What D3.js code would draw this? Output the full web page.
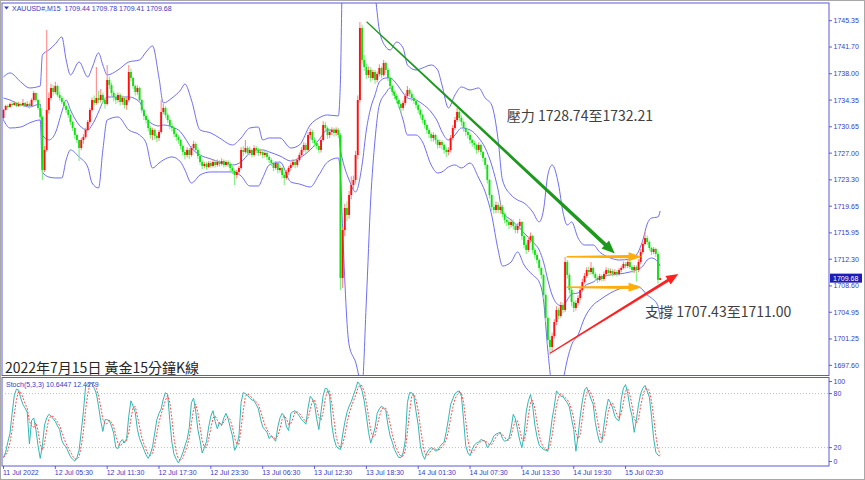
<!DOCTYPE html>
<html><head><meta charset="utf-8">
<script src="https://cdn.jsdelivr.net/npm/d3@7"></script>
<style>body{margin:0;background:#fff}svg{display:block}</style>
</head><body>
<svg id="c" width="865" height="480"></svg>
<script>
// ---------------- DATA ----------------
const openFirst = 1731.87;
const closes = [
1732.98,1733.53,1733.39,1733.81,1733.67,1733.95,1733.53,1733.81,1733.67,1733.95,
1733.53,1733.81,1733.53,1734.36,1735.33,1734.36,1733.26,1732.01,1724.66,1727.44,
1732.98,1734.64,1736.03,1735.47,1736.30,1735.06,1734.64,1734.09,1733.53,1732.98,
1732.29,1731.32,1730.48,1729.51,1728.82,1727.71,1728.82,1729.24,1730.21,1731.32,
1732.98,1734.36,1733.95,1734.64,1734.36,1735.06,1734.36,1733.81,1737.14,1736.44,
1735.33,1734.78,1734.36,1735.06,1734.09,1734.64,1733.67,1734.36,1738.24,1737.41,
1736.30,1735.47,1736.03,1734.36,1732.98,1732.15,1731.59,1730.48,1729.51,1730.21,
1729.38,1729.10,1729.93,1732.70,1733.26,1732.29,1731.59,1730.76,1730.48,1729.65,
1729.24,1728.82,1727.99,1727.16,1726.74,1727.44,1726.74,1727.71,1728.27,1727.44,
1726.60,1725.77,1725.22,1725.50,1725.08,1725.63,1725.22,1725.77,1725.36,1725.77,
1725.50,1725.91,1725.36,1725.77,1725.50,1724.94,1724.53,1723.97,1724.39,1724.94,
1727.44,1727.16,1727.71,1727.02,1727.44,1726.74,1727.71,1727.44,1727.02,1727.16,
1726.74,1727.02,1726.47,1726.05,1725.63,1724.94,1725.63,1724.66,1724.94,1723.97,
1723.56,1724.39,1724.94,1725.36,1725.77,1725.36,1726.05,1726.74,1727.44,1728.13,
1727.44,1729.51,1729.93,1728.82,1728.41,1727.99,1727.44,1728.82,1730.90,1730.48,
1729.51,1729.93,1730.21,1729.79,1730.21,1729.51,1709.70,1716.35,1719.40,1718.43,
1721.20,1722.59,1723.28,1726.74,1734.36,1744.34,1739.91,1738.94,1737.83,1738.52,
1737.41,1738.24,1737.14,1737.97,1738.80,1737.83,1739.49,1738.52,1737.41,1736.30,
1735.47,1734.92,1734.36,1733.81,1733.26,1733.95,1734.92,1735.75,1735.20,1734.64,
1734.23,1733.67,1732.98,1732.29,1731.59,1730.90,1730.21,1729.65,1729.10,1729.51,
1728.82,1728.13,1728.54,1728.13,1727.44,1727.16,1727.44,1729.10,1730.48,1731.59,
1732.70,1731.87,1731.32,1730.48,1729.93,1729.51,1728.82,1728.41,1728.13,1727.44,
1728.13,1727.16,1726.33,1725.36,1723.28,1721.20,1719.54,1719.12,1719.82,1719.12,
1719.54,1718.57,1717.74,1717.46,1717.04,1717.46,1716.91,1716.35,1716.91,1717.46,
1715.52,1714.27,1713.58,1714.97,1715.52,1713.58,1712.89,1712.19,1711.09,1710.12,
1707.34,1704.16,1701.11,1700.14,1701.66,1703.60,1705.27,1704.44,1705.96,1705.27,
1711.92,1710.12,1708.04,1706.37,1705.54,1706.24,1706.93,1708.04,1709.15,1709.98,
1710.81,1710.53,1711.09,1710.25,1709.70,1709.42,1709.98,1709.56,1710.25,1710.81,
1710.39,1710.67,1710.25,1710.53,1710.25,1710.81,1711.09,1711.64,1711.36,1711.92,
1711.22,1710.81,1711.22,1710.81,1711.92,1713.30,1714.41,1715.24,1714.69,1713.86,
1713.30,1713.72,1713.03,1709.44,1709.68];
const highs = [
1733.10,1733.70,1733.75,1734.00,1734.05,1734.20,1734.10,1734.10,1734.00,1734.50,
1734.10,1734.20,1734.00,1734.60,1735.60,1735.40,1734.50,1733.40,1732.20,1728.00,
1744.06,1735.40,1736.60,1736.44,1736.90,1736.50,1735.50,1734.90,1734.30,1733.70,
1733.20,1732.40,1731.50,1730.60,1729.70,1728.90,1729.10,1729.60,1730.50,1731.60,
1733.30,1734.70,1735.00,1738.94,1735.60,1735.90,1735.40,1734.60,1739.21,1737.60,
1736.80,1735.60,1735.20,1735.40,1735.30,1735.00,1734.80,1734.70,1739.21,1738.70,
1737.60,1736.50,1736.40,1736.20,1734.50,1733.20,1732.40,1731.80,1730.70,1730.50,
1730.40,1729.70,1730.20,1734.36,1733.80,1733.50,1732.60,1731.90,1731.20,1730.70,
1729.90,1729.50,1729.00,1728.20,1727.50,1727.80,1727.70,1728.00,1728.70,1728.50,
1727.70,1726.80,1726.00,1725.80,1725.80,1725.90,1725.90,1726.10,1726.00,1726.10,
1726.00,1726.30,1726.10,1726.00,1726.00,1725.70,1725.20,1724.70,1724.70,1725.20,
1727.80,1728.00,1728.82,1728.00,1727.90,1727.60,1728.10,1728.00,1727.70,1727.50,
1727.40,1727.30,1727.20,1726.70,1726.30,1725.80,1725.90,1725.80,1725.30,1725.10,
1724.30,1724.70,1725.20,1725.70,1726.20,1726.10,1726.40,1727.10,1727.80,1728.50,
1728.40,1729.90,1730.40,1730.20,1729.20,1728.70,1728.20,1729.10,1731.40,1731.30,
1730.70,1730.30,1730.60,1730.50,1730.60,1730.50,1729.80,1716.80,1720.00,1720.30,
1721.80,1723.80,1723.90,1727.30,1735.00,1745.17,1744.80,1740.60,1739.40,1739.00,
1738.90,1738.60,1738.50,1738.30,1739.30,1739.00,1739.91,1739.70,1738.80,1737.60,
1736.50,1735.70,1735.20,1734.60,1734.00,1734.30,1735.30,1736.30,1736.00,1735.50,
1734.90,1734.50,1733.90,1733.20,1732.50,1731.80,1731.10,1730.50,1729.90,1729.90,
1729.70,1729.00,1728.90,1728.80,1728.30,1727.80,1727.80,1729.50,1730.90,1732.00,
1733.26,1733.00,1732.20,1731.50,1730.70,1730.20,1729.70,1729.00,1728.70,1728.30,
1728.50,1728.30,1727.30,1726.50,1725.50,1723.40,1721.30,1720.00,1720.30,1720.20,
1720.00,1719.80,1718.80,1718.20,1717.80,1717.90,1717.80,1717.20,1717.30,1717.90,
1717.60,1715.70,1714.60,1715.40,1716.00,1715.70,1713.90,1713.20,1712.40,1711.30,
1710.30,1707.60,1704.40,1701.60,1702.10,1704.00,1705.80,1705.60,1706.40,1706.30,
1712.61,1712.20,1710.40,1708.30,1706.60,1706.60,1707.30,1708.40,1709.60,1710.40,
1711.20,1711.30,1711.92,1711.30,1710.50,1710.00,1710.30,1710.20,1710.60,1711.20,
1711.10,1711.00,1710.90,1710.90,1710.80,1711.10,1711.40,1712.00,1711.90,1712.30,
1712.20,1711.50,1711.50,1711.50,1712.30,1713.70,1714.80,1716.07,1715.60,1714.90,
1714.00,1714.00,1713.90,1713.30,1709.78];
const lows = [
1731.60,1732.90,1733.20,1733.30,1733.50,1733.55,1733.40,1733.40,1733.45,1733.55,
1733.35,1733.40,1733.20,1733.40,1734.20,1734.10,1733.00,1731.70,1723.28,1724.40,
1727.20,1732.50,1734.30,1735.00,1735.20,1734.80,1734.30,1733.80,1733.20,1732.60,
1731.90,1730.90,1730.10,1729.00,1728.40,1725.91,1727.40,1728.30,1729.00,1730.00,
1731.10,1732.80,1733.60,1733.70,1733.90,1734.00,1733.90,1733.20,1733.60,1735.90,
1734.80,1734.20,1733.80,1734.00,1733.60,1733.70,1733.20,1733.00,1734.10,1737.00,
1735.90,1735.00,1735.10,1734.00,1732.60,1731.60,1731.10,1730.00,1729.00,1728.80,
1728.90,1728.50,1728.70,1729.70,1732.40,1731.90,1731.20,1730.30,1730.00,1729.20,
1728.70,1728.30,1727.50,1726.70,1726.10,1726.40,1726.20,1726.50,1727.40,1727.00,
1726.20,1725.40,1724.80,1724.90,1724.70,1724.90,1724.90,1725.00,1725.00,1725.10,
1725.10,1725.30,1725.00,1725.10,1725.10,1724.50,1724.10,1722.59,1723.50,1724.00,
1724.70,1726.60,1726.90,1726.60,1726.70,1726.40,1726.50,1727.00,1726.60,1726.70,
1726.30,1726.40,1726.00,1725.60,1725.20,1724.50,1724.70,1724.20,1724.30,1723.50,
1722.59,1723.30,1724.00,1724.60,1725.10,1724.90,1725.00,1725.80,1726.40,1727.20,
1727.00,1727.20,1729.00,1728.40,1727.90,1727.50,1727.00,1727.10,1728.60,1730.00,
1729.00,1729.10,1729.50,1729.30,1729.40,1729.10,1708.04,1708.30,1715.50,1717.60,
1717.90,1720.60,1721.80,1722.80,1726.20,1734.00,1739.40,1738.40,1737.30,1737.40,
1736.90,1737.10,1736.60,1736.80,1737.60,1737.40,1737.60,1738.10,1737.00,1735.90,
1735.00,1734.50,1733.90,1733.30,1732.60,1732.90,1733.60,1734.60,1734.80,1734.20,
1733.80,1733.20,1732.50,1731.80,1731.10,1730.40,1729.70,1729.10,1728.60,1728.60,
1728.30,1727.60,1727.70,1727.50,1726.90,1726.47,1726.70,1727.10,1728.80,1730.20,
1731.30,1731.40,1730.80,1730.00,1729.40,1729.00,1728.30,1727.90,1727.60,1726.90,
1727.10,1726.70,1725.80,1724.80,1722.80,1720.70,1719.00,1718.60,1718.70,1718.70,
1718.60,1718.10,1717.30,1716.90,1716.50,1716.70,1716.40,1715.90,1715.90,1716.50,
1715.00,1713.80,1713.03,1713.30,1714.60,1713.10,1712.40,1711.70,1710.60,1709.60,
1706.80,1703.60,1700.50,1699.03,1699.60,1701.30,1703.20,1704.00,1704.20,1704.80,
1705.00,1709.60,1707.50,1705.80,1705.00,1705.20,1705.90,1706.60,1707.80,1708.90,
1709.70,1710.10,1710.20,1709.90,1709.30,1709.00,1709.20,1709.20,1709.30,1710.00,
1710.00,1710.10,1709.90,1710.00,1709.90,1710.00,1710.50,1710.90,1711.00,1711.10,
1710.90,1710.40,1710.40,1709.20,1710.50,1711.60,1713.00,1714.20,1714.30,1713.50,
1712.90,1713.00,1712.60,1708.90,1709.41];

// Bollinger bands (bar index -> price)
const bbBars = [0,3,8,12,17,18,21,24,27,29,31,35,39,41,44,46,48,53,58,63,66,69,72,74,78,82,84,87,91,96,100,106,110,114,118,120,123,128,133,137,142,146,150,155,156,157,160,163,166,168,170,172,174,177,179,182,185,187,191,194,198,201,203,206,209,212,216,220,223,226,229,231,235,238,241,245,248,250,252,254,257,259,261,263,266,269,273,276,281,285,290,293,296,298,300,303,304];
const bbUpper = [1737.55,1738.11,1736.86,1736.03,1736.30,1740.60,1741.29,1742.12,1743.09,1739.91,
1737.83,1739.63,1737.55,1738.80,1740.88,1739.21,1737.83,1738.52,1739.63,1739.91,
1741.01,1741.85,1737.41,1733.95,1734.64,1735.75,1736.58,1734.36,1730.21,1729.79,
1729.10,1728.13,1729.10,1730.48,1730.62,1728.82,1729.10,1729.10,1727.71,1728.13,
1730.90,1731.87,1732.29,1732.15,1737.14,1752.38,1756.53,1756.53,1753.76,1752.38,
1750.99,1748.91,1744.06,1741.71,1741.29,1742.40,1741.57,1739.21,1738.52,1738.80,
1739.21,1738.52,1736.44,1733.26,1735.06,1736.17,1735.75,1736.03,1734.64,1733.67,
1728.82,1723.28,1721.20,1720.51,1720.09,1718.85,1717.46,1719.12,1723.97,1725.36,
1722.59,1718.85,1717.04,1717.46,1715.24,1714.27,1714.27,1713.30,1712.47,1712.19,
1712.33,1712.89,1714.97,1717.18,1718.01,1718.15,1718.98];
const bbMiddle = [1734.64,1734.36,1733.67,1733.39,1733.81,1729.51,1728.82,1729.79,1732.70,1734.36,
1732.98,1730.90,1730.21,1730.90,1732.70,1734.09,1734.78,1734.78,1734.78,1734.09,
1731.87,1731.04,1730.76,1730.90,1730.62,1729.93,1729.10,1727.71,1726.74,1726.19,
1725.77,1725.36,1725.77,1727.02,1727.44,1727.44,1727.16,1726.60,1725.91,1726.33,
1727.44,1728.82,1730.21,1730.21,1727.44,1726.05,1723.28,1721.62,1725.36,1730.21,
1733.26,1735.06,1736.86,1737.41,1737.41,1736.58,1735.33,1734.64,1734.36,1733.81,
1732.70,1731.32,1729.93,1728.82,1729.51,1730.48,1730.21,1729.10,1727.71,1725.36,
1721.89,1718.85,1717.74,1716.91,1715.94,1714.69,1713.58,1711.92,1709.42,1707.34,
1705.96,1705.82,1706.65,1707.48,1707.62,1708.59,1709.15,1709.70,1710.12,1710.25,
1710.53,1710.81,1711.36,1712.19,1712.47,1711.92,1711.36];
const bbLower = [1731.59,1730.48,1730.62,1731.18,1731.59,1724.39,1723.69,1723.56,1723.56,1726.05,
1727.44,1726.47,1725.08,1722.86,1722.17,1727.44,1731.59,1732.01,1730.21,1729.51,
1728.41,1724.94,1725.63,1726.05,1726.47,1725.77,1724.66,1722.86,1723.97,1724.39,
1724.39,1724.39,1723.83,1722.45,1722.45,1723.56,1725.36,1725.77,1723.00,1722.72,
1722.31,1723.97,1725.77,1726.33,1723.97,1716.35,1700.42,1698.06,1694.87,1706.65,
1720.51,1728.82,1733.67,1735.33,1736.03,1734.36,1731.59,1729.51,1729.51,1728.54,
1725.36,1724.25,1724.39,1725.08,1725.36,1724.94,1725.63,1723.56,1721.62,1718.43,
1713.58,1711.36,1711.92,1713.30,1711.50,1710.12,1709.15,1706.65,1699.72,1694.87,
1694.18,1695.57,1698.34,1700.42,1701.80,1704.16,1705.96,1706.65,1707.62,1708.18,
1708.45,1708.59,1708.04,1707.34,1706.93,1705.82,1704.16];

// Stochastic main line (%K)
const stochK = [
9,15,26,36,58,78,85,84,75,68, 64,59,24,50,53,40,22,8,22,45,
53,57,55,52,49,44,40,28,23,21, 15,10,7,5,9,17,38,60,88,91,
92,91,86,80,66,50,38,51,51,50, 44,36,20,19,26,29,25,30,55,72,
66,59,40,30,24,18,12,8,13,21, 36,51,58,63,74,81,79,50,25,12,
7,3,8,14,22,29,42,70,75,60, 40,28,14,20,27,43,55,61,49,41,
48,45,53,58,52,42,33,17,22,33, 70,81,80,78,75,73,72,68,63,52,
43,40,37,30,33,30,27,43,53,58, 55,43,39,58,60,61,58,55,51,49,
46,64,77,74,68,52,40,60,78,86, 85,77,45,30,22,19,18,34,48,59,
66,71,78,85,93,90,83,72,55,37, 25,33,42,58,63,66,64,61,45,33,
26,18,13,9,9,14,28,70,81,81, 77,60,45,22,12,7,14,18,20,19,
16,17,21,24,26,38,52,68,74,80, 82,83,77,51,22,14,11,18,23,25,
26,29,28,27,20,23,27,33,35,36, 37,30,27,28,30,41,57,52,40,28,
20,34,60,72,79,66,45,32,23,20, 18,17,16,33,52,66,83,80,77,77,
73,70,65,52,40,16,33,55,72,84, 87,81,74,68,48,35,26,26,45,62,
74,70,64,55,51,50,74,86,90,80, 65,55,37,51,68,80,86,89,83,76,
55,30,15,11.639,10.6447];

const priceTicks = [1745.35,1741.70,1738.00,1734.35,1730.65,1727.00,1723.30,1719.65,1715.95,1712.30,1708.60,1704.95,1701.25,1697.60];
const stochTicks = [100,80,20,0];
const stochLevels = [80,20];
const timeTickBars = [0,24,48,72,96,120,144,168,192,216,240,264,288];
const timeLabels = ["11 Jul 2022","12 Jul 05:30","12 Jul 11:30","12 Jul 17:30","12 Jul 23:30","13 Jul 06:30","13 Jul 12:30","13 Jul 18:30","14 Jul 01:30","14 Jul 07:30","14 Jul 13:30","14 Jul 19:30","15 Jul 02:30"];
const lastPrice = 1709.68;
const headerText = "XAUUSD#,M15  1709.44 1709.78 1709.41 1709.68";
const stochTitle = "Stoch(5,3,3) 10.6447 12.4279";
const chartTitle = "2022年7月15日 黃金15分鐘K線";
const resistText = "壓力 1728.74至1732.21", resistAt = [233.0, 1731.52];
const supportText = "支撐 1707.43至1711.00", supportAt = [297.0, 1704.23];
const greenArrow = [[168.1, 1745.20], [283.0, 1713.10]];
const redArrow = [[253.0, 1699.28], [312.4, 1710.25]];
const orangeArrows = [[[260.7, 1712.65], [295.4, 1712.65]], [[260.7, 1708.41], [295.4, 1708.41]]];

// ---------------- DRAW ----------------
const svg = d3.select("#c");
const M = {left: 2, right: 829, top: 3, bottom: 375.5};
const S = {top: 377.5, bottom: 466};
const x = d3.scaleLinear().domain([0, 304]).range([3.5, 660.14]);
const y = d3.scaleLinear().domain([1696.26, 1747.80]).range([375, 3]);
const ys = d3.scaleLinear().domain([0, 100]).range([465.6, 375.6]);
const axisCol = "#3a3ac4", frameCol = "#5a5ad8", bandCol = "#6e6ef2";
const smallFont = "'Liberation Sans', Arial, sans-serif";
const cjkFont = "'Noto Sans CJK TC', 'Noto Sans CJK SC', sans-serif";

svg.append("rect").attr("x",0).attr("y",0).attr("width",865).attr("height",480).attr("fill","#fff");
svg.append("rect").attr("x",0.5).attr("y",0.5).attr("width",864).attr("height",479).attr("fill","none").attr("stroke","#a8a8a8");

const defs = svg.append("defs");
defs.append("clipPath").attr("id","mclip").append("rect")
  .attr("x",M.left).attr("y",M.top).attr("width",M.right-M.left).attr("height",M.bottom-M.top);
defs.append("clipPath").attr("id","sclip").append("rect")
  .attr("x",M.left).attr("y",S.top).attr("width",M.right-M.left).attr("height",S.bottom-S.top);

const main = svg.append("g").attr("clip-path","url(#mclip)");

// Bollinger bands
const bandLine = d3.line().x(d => x(d[0])).y(d => y(d[1])).curve(d3.curveMonotoneX);
[bbUpper, bbMiddle, bbLower].forEach(arr => {
  main.append("path").datum(bbBars.map((b,k) => [b, arr[k]]))
    .attr("d", bandLine).attr("fill","none").attr("stroke",bandCol).attr("stroke-width",1);
});

// Candles
const bars = closes.map((c,i) => {
  const o = i === 0 ? openFirst : closes[i-1];
  return {i, o, c, h: Math.max(highs[i], o, c), l: Math.min(lows[i], o, c)};
});
const cg = main.append("g");
bars.forEach(d => {
  const bull = d.c >= d.o;
  cg.append("line").attr("x1",x(d.i)).attr("x2",x(d.i)).attr("y1",y(d.h)).attr("y2",y(d.l))
    .attr("stroke", bull ? "#ff8c8c" : "#7eee7e").attr("stroke-width",1.1);
  const top = y(Math.max(d.o,d.c)), bot = y(Math.min(d.o,d.c));
  cg.append("rect").attr("x",x(d.i)-0.95).attr("width",1.9)
    .attr("y",top).attr("height",Math.max(1, bot-top))
    .attr("fill", bull ? "#ff1010" : "#10e010");
});

// Annotation arrows
function arrow(g, from, to, w0, w1, headLen, headHalf, color) {
  const p0 = [x(from[0]), y(from[1])], p1 = [x(to[0]), y(to[1])];
  const dx = p1[0]-p0[0], dy = p1[1]-p0[1], L = Math.hypot(dx,dy);
  const ux = dx/L, uy = dy/L, nx = -uy, ny = ux;
  const b = [p1[0]-ux*headLen, p1[1]-uy*headLen];
  const pts = [
    [p0[0]+nx*w0/2, p0[1]+ny*w0/2], [b[0]+nx*w1/2, b[1]+ny*w1/2],
    [b[0]+nx*headHalf, b[1]+ny*headHalf], p1,
    [b[0]-nx*headHalf, b[1]-ny*headHalf], [b[0]-nx*w1/2, b[1]-ny*w1/2],
    [p0[0]-nx*w0/2, p0[1]-ny*w0/2]];
  g.append("polygon").attr("points", pts.map(p => p.join(",")).join(" ")).attr("fill", color);
}
const ag = svg.append("g");
orangeArrows.forEach(a => arrow(ag, a[0], a[1], 1.6, 3.2, 13, 4.5, "#ffad0a"));
arrow(ag, greenArrow[0], greenArrow[1], 1.2, 3.8, 13, 5.5, "#1d9a1d");
arrow(ag, redArrow[0], redArrow[1], 1.2, 3.0, 12, 5, "#ff2020");

// Annotation texts
svg.append("text").attr("x",x(resistAt[0])).attr("y",y(resistAt[1])).text(resistText)
  .attr("font-family",cjkFont).attr("font-size",14).attr("fill","#404040");
svg.append("text").attr("x",x(supportAt[0])).attr("y",y(supportAt[1])).text(supportText)
  .attr("font-family",cjkFont).attr("font-size",14).attr("fill","#404040");
svg.append("text").attr("x",M.left+3).attr("y",M.bottom-2.5).text(chartTitle)
  .attr("font-family",cjkFont).attr("font-size",14).attr("fill","#262626");

// Header
svg.append("path").attr("d","M4,6.5L9,6.5L6.5,9.5Z").attr("fill",axisCol);
svg.append("text").attr("x",12).attr("y",10.5).text(headerText).attr("xml:space","preserve")
  .style("white-space","pre").attr("font-family",smallFont).attr("font-size",7).attr("fill",axisCol);

// Frames
svg.append("rect").attr("x",M.left).attr("y",M.top).attr("width",M.right-M.left).attr("height",M.bottom-M.top)
  .attr("fill","none").attr("stroke",frameCol).attr("stroke-width",1);
svg.append("rect").attr("x",M.left).attr("y",S.top).attr("width",M.right-M.left).attr("height",S.bottom-S.top)
  .attr("fill","none").attr("stroke",frameCol).attr("stroke-width",1);

// Price axis
priceTicks.forEach(v => {
  svg.append("line").attr("x1",M.right).attr("x2",M.right+3).attr("y1",y(v)).attr("y2",y(v)).attr("stroke",axisCol).attr("stroke-width",0.8);
  svg.append("text").attr("x",M.right+4.5).attr("y",y(v)).attr("dy","0.35em").text(v.toFixed(2))
    .attr("font-family",smallFont).attr("font-size",7).attr("fill",axisCol);
});
svg.append("rect").attr("x",M.right+1).attr("y",y(lastPrice)-4.5).attr("width",32).attr("height",9).attr("fill","#1c1cb8");
svg.append("text").attr("x",M.right+4).attr("y",y(lastPrice)).attr("dy","0.35em").text(lastPrice.toFixed(2))
  .attr("font-family",smallFont).attr("font-size",7).attr("fill","#fff");

// Stochastic
const sub = svg.append("g").attr("clip-path","url(#sclip)");
stochLevels.forEach(v => {
  sub.append("line").attr("x1",M.left).attr("x2",M.right).attr("y1",ys(v)).attr("y2",ys(v))
    .attr("stroke","#bdbdbd").attr("stroke-width",1).attr("stroke-dasharray","1,2");
});
const stochD = stochK.map((k,i) => d3.mean(stochK.slice(Math.max(0,i-2), i+1)));
const sl = d3.line().x((d,i) => x(i)).y(d => ys(d));
sub.append("path").datum(stochK).attr("d",sl).attr("fill","none").attr("stroke","#2fb8b2").attr("stroke-width",1);
sub.append("path").datum(stochD).attr("d",sl).attr("fill","none").attr("stroke","#ff4a4a").attr("stroke-width",1).attr("stroke-dasharray","2,1.5");
svg.append("text").attr("x",6).attr("y",S.top+9).text(stochTitle)
  .attr("font-family",smallFont).attr("font-size",7).attr("fill",axisCol);
stochTicks.forEach(v => {
  const yy = Math.min(Math.max(ys(v), S.top+4), S.bottom-4.5);
  svg.append("line").attr("x1",M.right).attr("x2",M.right+3).attr("y1",yy).attr("y2",yy).attr("stroke",axisCol).attr("stroke-width",0.8);
  svg.append("text").attr("x",M.right+4.5).attr("y",yy).attr("dy","0.35em").text(String(v))
    .attr("font-family",smallFont).attr("font-size",7).attr("fill",axisCol);
});

// Time axis
timeTickBars.forEach((b,k) => {
  svg.append("line").attr("x1",x(b)).attr("x2",x(b)).attr("y1",S.bottom).attr("y2",S.bottom+3).attr("stroke",axisCol).attr("stroke-width",0.8);
  svg.append("text").attr("x",x(b)-0.5).attr("y",S.bottom+8.5).text(timeLabels[k])
    .attr("font-family",smallFont).attr("font-size",7).attr("fill",axisCol);
});
</script>
</body></html>
